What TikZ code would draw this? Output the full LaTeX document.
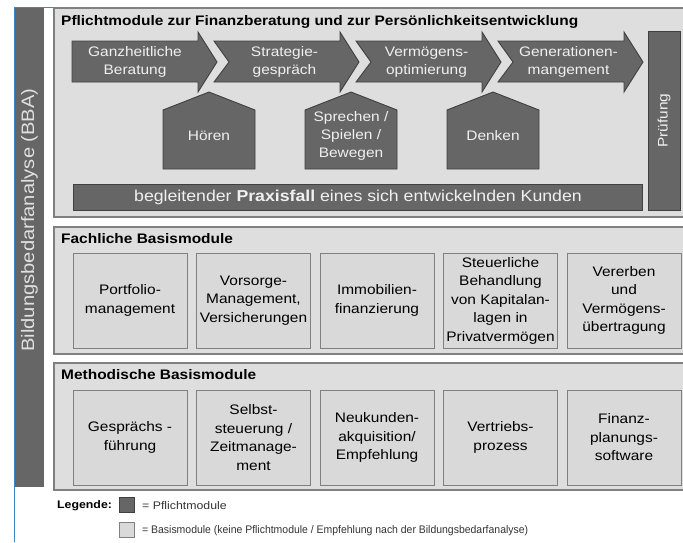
\documentclass[tikz,border=0pt]{standalone}
\usepackage{fontspec}
\setmainfont{Liberation Sans}[FakeStretch=1.12]
\newfontfamily\condfont{Liberation Sans}[FakeStretch=0.95]

\definecolor{pflicht}{HTML}{666666}
\definecolor{panelgray}{HTML}{DEDEDE}
\definecolor{boxgray}{HTML}{D9D9D9}
\definecolor{framegray}{HTML}{808080}
\definecolor{bbablue}{HTML}{3A87C8}

\tikzset{
  panel/.style={draw=framegray, fill=panelgray, line width=1.3pt},
  darkshape/.style={draw=black!75, fill=pflicht, line width=0.9pt},
  basisbox/.style={draw=framegray, fill=boxgray, line width=0.9pt, minimum width=114pt,
    minimum height=95pt, align=center, inner sep=1pt, font=\fontsize{13.8}{18.5}\selectfont},
  whitetxt/.style={text=white!94!black, align=center, font=\fontsize{13.8}{18}\selectfont},
  paneltitle/.style={anchor=west, inner sep=0pt, font=\bfseries\fontsize{13.8}{16}\selectfont},
  legtxt/.style={anchor=west, inner sep=0pt, text=black!80, font=\fontsize{11}{13}\selectfont}
}

\begin{document}
\begin{tikzpicture}[x=1pt,y=-1pt]
\useasboundingbox (0,0) rectangle (683,542);
\clip (0,0) rectangle (683,542);

% Rahmen und BBA-Balken
\draw[bbablue, line width=1pt] (14,542) -- (14,7) -- (683,7);
\fill[pflicht] (15,8) rectangle (44,487);
\node[rotate=90, text=white!88!black, font=\fontsize{18}{20}\selectfont] (bba) at (29.5,220) {Bildungsbedarfanalyse (BBA)};

% Pflichtmodule
\draw[panel] (54,8) rectangle (695,217);
\node[paneltitle] (ptitle) at (61,22) {Pflichtmodule zur Finanzberatung und zur Persönlichkeitsentwicklung};

\foreach \i/\txt in {0/{Ganzheitliche\\Beratung}, 1/{Strategie-\\gespräch},
                     2/{Vermögens-\\optimierung}, 3/{Generationen-\\mangement}} {
    \pgfmathsetmacro{\ax}{72+142*\i}
    \pgfmathsetmacro{\tipx}{\ax+145}
    \pgfmathsetmacro{\basex}{\tipx-19}
    \pgfmathsetmacro{\notchx}{\i>0 ? \ax+15 : \ax}
    \draw[darkshape] (\ax,41) -- (\basex,41) -- (\basex,32) -- (\tipx,62) -- (\basex,92)
        -- (\basex,82) -- (\ax,82) -- (\notchx,62) -- cycle;
    \node[whitetxt] (pa\i) at ({(\notchx+\basex)/2},62) {\txt};
}

\foreach \i/\txt in {0/Hören, 1/{Sprechen /\\Spielen /\\Bewegen}, 2/Denken} {
    \pgfmathsetmacro{\hx}{209+142*\i}
    \draw[darkshape] ({\hx-46},169) -- ({\hx-46},110) -- (\hx,92) -- ({\hx+46},110)
        -- ({\hx+46},169) -- cycle;
    \node[whitetxt] (ph\i) at (\hx,136) {\txt};
}

\draw[darkshape] (648,31) rectangle (680,210);
\node[whitetxt, rotate=90] (pruef) at (664,120.5) {Prüfung};

\draw[darkshape] (73,184) rectangle (642,210);
\node[whitetxt, font=\fontsize{15.8}{18}\selectfont] (praxis) at (358,197.5)
    {begleitender \textbf{Praxisfall} eines sich entwickelnden Kunden};

% Fachliche Basismodule
\draw[panel] (54,227) rectangle (695,354);
\node[paneltitle] (ftitle) at (61,239) {Fachliche Basismodule};
\foreach \i/\txt in {0/{Portfolio-\\management}, 1/{Vorsorge-\\Management,\\Versicherungen},
                     2/{Immobilien-\\finanzierung},
                     3/{Steuerliche\\Behandlung\\von Kapitalan-\\lagen in\\Privatvermögen},
                     4/{Vererben\\und\\Vermögens-\\übertragung}} {
    \node[basisbox] (fb\i) at ({130+123.5*\i},300.5) {\txt};
}

% Methodische Basismodule
\draw[panel] (54,363) rectangle (695,490);
\node[paneltitle] (mtitle) at (61,375) {Methodische Basismodule};
\foreach \i/\txt in {0/{Gesprächs -\\führung}, 1/{Selbst-\\steuerung /\\Zeitmanage-\\ment},
                     2/{Neukunden-\\akquisition/\\Empfehlung}, 3/{Vertriebs-\\prozess},
                     4/{Finanz-\\planungs-\\software}} {
    \node[basisbox] (mb\i) at ({130+123.5*\i},437.5) {\txt};
}

% Legende
\node[legtxt, text=black, font=\bfseries\fontsize{11}{13}\selectfont] (leg) at (57,506) {Legende:};
\node[darkshape, minimum size=15pt, inner sep=0pt] (legp) at (126.5,504.5) {};
\node[legtxt] (legptxt) at (142,506) {= Pflichtmodule};
\node[draw=framegray, fill=boxgray, line width=0.9pt, minimum size=15pt, inner sep=0pt] (legb) at (126.5,529.5) {};
\node[legtxt, font=\condfont\fontsize{11}{13}\selectfont] (legbtxt) at (142,531) {= Basismodule (keine Pflichtmodule / Empfehlung nach der Bildungsbedarfanalyse)};

\end{tikzpicture}
\end{document}
